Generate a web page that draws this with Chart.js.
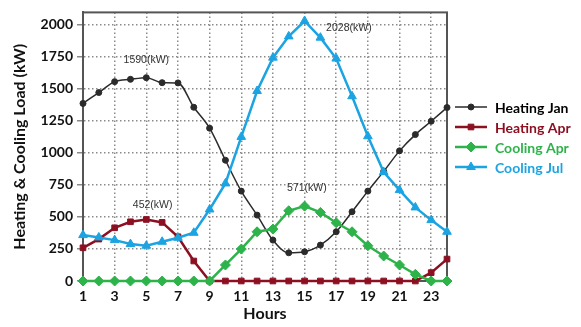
<!DOCTYPE html>
<html><head><meta charset="utf-8">
<script src="https://cdn.jsdelivr.net/npm/chart.js@4.4.0/dist/chart.umd.min.js"></script>
<style>html,body{margin:0;padding:0;background:#fff}#wrap{width:581px;height:327px;position:relative}</style>
</head><body><div id="wrap"><canvas id="c" width="581" height="327"></canvas></div>
<script>
const hours = [1,2,3,4,5,6,7,8,9,10,11,12,13,14,15,16,17,18,19,20,21,22,23,24];
const heatingJan = [1385,1470,1555,1573,1586,1547,1545,1355,1192,942,701,514,319,220,228,280,384,540,701,855,1015,1142,1246,1353];
const heatingApr = [259,327,415,462,480,457,345,156,0,0,0,0,0,0,0,0,0,0,0,0,0,0,65,171];
const coolingApr = [0,0,0,0,0,0,0,0,0,125,249,384,405,548,584,535,454,384,275,195,125,52,0,0];
const coolingJul = [358,340,319,288,275,306,337,376,558,761,1124,1482,1742,1908,2028,1898,1735,1441,1129,850,709,574,475,384];
const xTicks = [1,3,5,7,9,11,13,15,17,19,21,23];
const yTicks = [0,250,500,750,1000,1250,1500,1750,2000];
const seriesNames = ['Heating Jan','Heating Apr','Cooling Apr','Cooling Jul'];
const annotations = [
  {text:'1590(kW)', x:5, y:1721},
  {text:'2028(kW)', x:17.8, y:1970},
  {text:'452(kW)', x:5.4, y:592},
  {text:'571(kW)', x:15.15, y:724}
];

const toXY = arr => arr.map((v,i)=>({x:hours[i], y:v}));
const styles = [
  {color:'#2b2b2b', text:'#000000', width:1.5, point:'circle', r:3, tension:0.3},
  {color:'#8c1022', text:'#8c1022', width:2.5, point:'rect', r:4, tension:0},
  {color:'#2db34a', text:'#2db34a', width:2.5, point:'rectRot', r:5, tension:0},
  {color:'#1ba3e2', text:'#1ba3e2', width:2.5, point:'triangle', r:5, tension:0}
];
const allData = [heatingJan, heatingApr, coolingApr, coolingJul];
const datasets = allData.map((d,i)=>({
  label: seriesNames[i], data: toXY(d),
  borderColor: styles[i].color, backgroundColor: styles[i].color,
  borderWidth: styles[i].width, pointStyle: styles[i].point,
  pointRadius: styles[i].r, pointBorderWidth: 1,
  tension: styles[i].tension, cubicInterpolationMode: i===0 ? 'monotone' : 'default',
  clip: 8
})).reverse();

const framePlugin = {
  id:'frame',
  beforeDatasetsDraw(chart){
    const {ctx, chartArea:a} = chart;
    ctx.save();
    ctx.strokeStyle='#555'; ctx.lineWidth=2;
    ctx.strokeRect(a.left, a.top, a.right-a.left, a.bottom-a.top);
    ctx.restore();
  },
  afterDatasetsDraw(chart){
    const {ctx, scales} = chart;
    ctx.save();
    ctx.fillStyle='#333';
    ctx.font='10.5px "Liberation Sans", Arial';
    ctx.textAlign='center'; ctx.textBaseline='middle';
    annotations.forEach(an=>{
      ctx.fillText(an.text, scales.x.getPixelForValue(an.x), scales.y.getPixelForValue(an.y));
    });
    const lx0=455, lx1=487, tx=495, y0=107, dy=20;
    styles.forEach((s,i)=>{
      const y=y0+i*dy;
      ctx.strokeStyle=s.color; ctx.lineWidth=s.width;
      ctx.beginPath(); ctx.moveTo(lx0,y); ctx.lineTo(lx1,y); ctx.stroke();
      ctx.fillStyle=s.color; ctx.strokeStyle=s.color; ctx.lineWidth=1;
      Chart.helpers.drawPoint(ctx,{pointStyle:s.point, radius:s.r, rotation:0, borderWidth:1}, (lx0+lx1)/2, y);
      ctx.fillStyle=s.text;
      ctx.font='bold 14px Lato, "Open Sans", sans-serif';
      ctx.textAlign='left';
      ctx.fillText(seriesNames[i], tx, y+1);
    });
    ctx.restore();
  }
};

new Chart(document.getElementById('c'), {
  type:'line',
  data:{datasets},
  plugins:[framePlugin],
  options:{
    responsive:false, animation:false,
    layout:{padding:{left:0, right:134, top:12, bottom:0}},
    plugins:{legend:{display:false}, tooltip:{enabled:false}},
    scales:{
      x:{type:'linear', min:1, max:24,
        afterBuildTicks: ax => { ax.ticks = xTicks.map(v=>({value:v})); },
        afterFit: ax => { ax.height = 46; },
        grid:{color:'#8a8a8a', lineWidth:1.5, drawTicks:false},
        border:{display:true, color:'#555', width:2, dash:[1.5,2.5]},
        ticks:{color:'#111', font:{family:'Lato', weight:'bold', size:14}, padding:7, maxRotation:0, autoSkip:false,
          callback: v => String(v)},
        title:{display:true, text:'Hours', color:'#111', font:{family:'Lato', weight:'bold', size:16}, padding:{top:1}}
      },
      y:{type:'linear', min:0, max:2095,
        afterBuildTicks: ax => { ax.ticks = yTicks.map(v=>({value:v})); },
        afterFit: ax => { ax.width = 83; },
        grid:{color:'#8a8a8a', lineWidth:1.5, tickLength:6},
        border:{display:true, color:'#555', width:2, dash:[1.5,2.5]},
        ticks:{color:'#111', font:{family:'Lato', weight:'bold', size:14}, padding:4, callback: v => String(v)},
        title:{display:true, text:'Heating & Cooling Load (kW)', color:'#111', font:{family:'Lato', weight:'bold', size:16}, padding:{top:10, bottom:0}}
      }
    }
  }
});
</script></body></html>
